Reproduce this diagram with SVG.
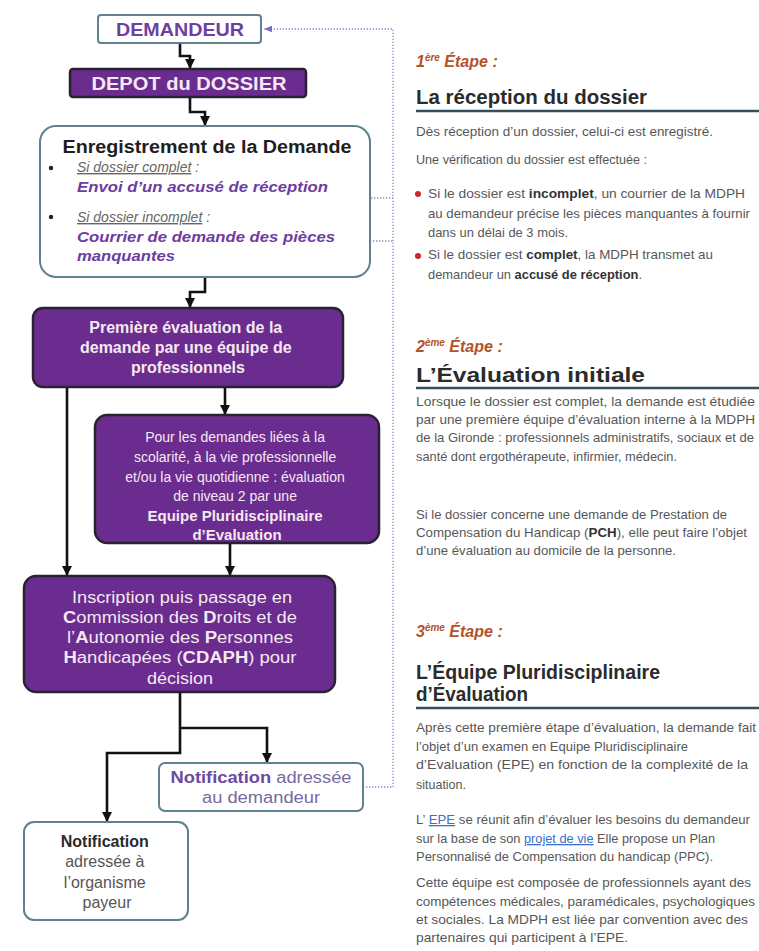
<svg xmlns="http://www.w3.org/2000/svg" width="759" height="951" viewBox="0 0 759 951">
<defs>
<marker id="ah" markerUnits="userSpaceOnUse" markerWidth="10" markerHeight="10" viewBox="0 0 10 10" refX="10" refY="5" orient="auto">
<path d="M0,0 L10,5 L0,10 z" fill="#111"/>
</marker>
<marker id="ahd" markerUnits="userSpaceOnUse" markerWidth="8" markerHeight="8" viewBox="0 0 10 10" refX="10" refY="5" orient="auto">
<path d="M0,1 L10,5 L0,9 z" fill="#7a6cc0"/>
</marker>
<style>
.pbox{fill:#6a2c8e;stroke:#2a2233;stroke-width:2.5}
.obox{fill:#fff;stroke:#5f8190;stroke-width:2}
.ptxt{font-family:"Liberation Sans",Arial,sans-serif;fill:#f6e8f2;text-anchor:middle}
.otxt{font-family:"Liberation Sans",Arial,sans-serif;text-anchor:middle}
.conn{fill:none;stroke:#111;stroke-width:2.6}
.dot{fill:none;stroke:#7f8fc8;stroke-width:1.3;stroke-dasharray:1.3 1.7}
.body{font-family:"Liberation Sans",Arial,sans-serif;font-size:13px;fill:#575757}
.step{font-family:"Liberation Sans",Arial,sans-serif;font-size:16px;font-weight:bold;font-style:italic;fill:#b4532a}
.title{font-family:"Liberation Sans",Arial,sans-serif;font-size:20px;font-weight:bold;fill:#2b2b2b}
.rule{stroke:#34505e;stroke-width:2.5}
.b{font-weight:bold;fill:#333}
.lnk{fill:#3a6fcc;text-decoration:underline}
</style>
</defs>
<rect width="759" height="951" fill="#fff"/>

<g id="connectors">
<path class="conn" d="M180,43 V56 H190 V69" marker-end="url(#ah)"/>
<path class="conn" d="M190,97 V112 H205 V126" marker-end="url(#ah)"/>
<path class="conn" d="M205,277 V292 H190 V308" marker-end="url(#ah)"/>
<path class="conn" d="M67,387 V576" marker-end="url(#ah)"/>
<path class="conn" d="M225,387 V415" marker-end="url(#ah)"/>
<path class="conn" d="M230,543 V576" marker-end="url(#ah)"/>
<path class="conn" d="M180,692 V753 H107 V822" marker-end="url(#ah)"/>
<path class="conn" d="M180,728 H267 V763" marker-end="url(#ah)"/>
<path class="dot" d="M363,787 H393 V29 H264" marker-end="url(#ahd)"/>
<path class="dot" d="M335,198 H393"/>
<path class="dot" d="M337,241 H393"/>
</g>

<g id="demandeur">
<rect class="obox" x="98" y="15" width="163" height="28" rx="3"/>
<text class="otxt" x="180" y="36" font-size="18" font-weight="bold" fill="#6f3f9f" textLength="128" lengthAdjust="spacingAndGlyphs">DEMANDEUR</text>
</g>

<g id="depot">
<rect class="pbox" x="70" y="69" width="236" height="28" rx="3"/>
<text class="ptxt" x="189" y="90" font-size="18" font-weight="bold" textLength="195" lengthAdjust="spacingAndGlyphs">DEPOT du DOSSIER</text>
</g>

<g id="enregistrement">
<rect class="obox" x="40" y="126" width="330" height="151" rx="16"/>
<text class="otxt" x="207" y="153" font-size="18" font-weight="bold" fill="#1e1e1e" textLength="289" lengthAdjust="spacingAndGlyphs">Enregistrement de la Demande</text>
<circle cx="51" cy="168" r="2.2" fill="#222"/>
<text x="77" y="172" font-family="'Liberation Sans',Arial,sans-serif" font-size="14" font-style="italic" fill="#666"><tspan text-decoration="underline">Si dossier complet</tspan> :</text>
<text x="77" y="192" font-family="'Liberation Sans',Arial,sans-serif" font-size="15" font-style="italic" font-weight="bold" fill="#6c3d9e" textLength="251" lengthAdjust="spacingAndGlyphs">Envoi d’un accusé de réception</text>
<circle cx="51" cy="217" r="2.2" fill="#222"/>
<text x="77" y="222" font-family="'Liberation Sans',Arial,sans-serif" font-size="14" font-style="italic" fill="#666"><tspan text-decoration="underline">Si dossier incomplet</tspan> :</text>
<text x="77" y="242" font-family="'Liberation Sans',Arial,sans-serif" font-size="15" font-style="italic" font-weight="bold" fill="#6c3d9e" textLength="258" lengthAdjust="spacingAndGlyphs">Courrier de demande des pièces</text>
<text x="77" y="261" font-family="'Liberation Sans',Arial,sans-serif" font-size="15" font-style="italic" font-weight="bold" fill="#6c3d9e" textLength="98" lengthAdjust="spacingAndGlyphs">manquantes</text>
</g>

<g id="premiere">
<rect class="pbox" x="33" y="308" width="310" height="79" rx="10"/>
<text class="ptxt" font-size="16" font-weight="bold">
<tspan x="188" y="333">Première évaluation de la</tspan>
<tspan x="188" y="353">demande par une équipe de</tspan>
<tspan x="188" y="373">professionnels</tspan>
</text>
</g>

<g id="epe">
<rect class="pbox" x="95" y="415" width="284" height="128" rx="12"/>
<text class="ptxt" font-size="14">
<tspan x="237" y="442">Pour les demandes liées à la</tspan>
<tspan x="237" y="462">scolarité, à la vie professionnelle</tspan>
<tspan x="237" y="482">et/ou la vie quotidienne : évaluation</tspan>
<tspan x="237" y="501">de niveau 2 par une</tspan>
<tspan x="237" y="521" font-size="15" font-weight="bold">Equipe Pluridisciplinaire</tspan>
<tspan x="237" y="540" font-size="15" font-weight="bold">d’Evaluation</tspan>
</text>
</g>

<g id="cdaph">
<rect class="pbox" x="24" y="576" width="311" height="116" rx="12"/>
<text class="ptxt" x="182" y="603" font-size="16" textLength="220" lengthAdjust="spacingAndGlyphs">Inscription puis passage en</text>
<text class="ptxt" x="180" y="623" font-size="16" textLength="234" lengthAdjust="spacingAndGlyphs"><tspan font-weight="bold">C</tspan>ommission des <tspan font-weight="bold">D</tspan>roits et de</text>
<text class="ptxt" x="180" y="643" font-size="16" textLength="226" lengthAdjust="spacingAndGlyphs">l’<tspan font-weight="bold">A</tspan>utonomie des <tspan font-weight="bold">P</tspan>ersonnes</text>
<text class="ptxt" x="180" y="663" font-size="16" textLength="233" lengthAdjust="spacingAndGlyphs"><tspan font-weight="bold">H</tspan>andicapées (<tspan font-weight="bold">CDAPH</tspan>) pour</text>
<text class="ptxt" x="180" y="684" font-size="16" textLength="66" lengthAdjust="spacingAndGlyphs">décision</text>
</g>

<g id="notif-demandeur">
<rect class="obox" x="159" y="763" width="204" height="48" rx="6"/>
<text class="otxt" x="261" y="783" font-size="16" fill="#7a6a9e" textLength="181" lengthAdjust="spacingAndGlyphs"><tspan font-weight="bold" fill="#6b4aa0">Notification</tspan> adressée</text>
<text class="otxt" x="261" y="803" font-size="16" fill="#7a6a9e" textLength="118" lengthAdjust="spacingAndGlyphs">au demandeur</text>
</g>

<g id="notif-payeur">
<rect class="obox" x="24" y="822" width="164" height="98" rx="10"/>
<text class="otxt" font-size="16" fill="#555">
<tspan x="107" y="847" font-weight="bold" fill="#2a2a2a">Notification</tspan>
<tspan x="107" y="867">adressée à</tspan>
<tspan x="107" y="888">l’organisme</tspan>
<tspan x="107" y="908">payeur</tspan>
</text>
</g>

<g id="etape1">
<text class="step" x="416" y="67">1<tspan font-size="10" dy="-6">ère</tspan><tspan dy="6"> Étape :</tspan></text>
<text class="title" x="416" y="104" textLength="231" lengthAdjust="spacingAndGlyphs">La réception du dossier</text>
<line class="rule" x1="416" y1="111" x2="759" y2="111"/>
<text class="body" x="416" y="136" textLength="297" lengthAdjust="spacingAndGlyphs">Dès réception d’un dossier, celui-ci est enregistré.</text>
<text class="body" x="416" y="164" textLength="231" lengthAdjust="spacingAndGlyphs">Une vérification du dossier est effectuée :</text>
<circle cx="418" cy="194" r="3" fill="#c8282d"/>
<text class="body" x="428" y="198" textLength="317" lengthAdjust="spacingAndGlyphs">Si le dossier est <tspan class="b">incomplet</tspan>,  un courrier de la MDPH</text>
<text class="body" x="428" y="218" textLength="322" lengthAdjust="spacingAndGlyphs">au demandeur précise les pièces manquantes à fournir</text>
<text class="body" x="428" y="237" textLength="140" lengthAdjust="spacingAndGlyphs">dans un délai de 3 mois.</text>
<circle cx="418" cy="256" r="3" fill="#c8282d"/>
<text class="body" x="428" y="259" textLength="285" lengthAdjust="spacingAndGlyphs">Si le dossier est <tspan class="b">complet</tspan>, la MDPH transmet au</text>
<text class="body" x="428" y="279" textLength="214" lengthAdjust="spacingAndGlyphs">demandeur un <tspan class="b">accusé de réception</tspan>.</text>
</g>

<g id="etape2">
<text class="step" x="416" y="352">2<tspan font-size="10" dy="-6">ème</tspan><tspan dy="6"> Étape :</tspan></text>
<text class="title" x="416" y="382" font-size="21" textLength="229" lengthAdjust="spacingAndGlyphs">L’Évaluation initiale</text>
<line class="rule" x1="416" y1="388" x2="759" y2="388"/>
<text class="body" x="416" y="406" textLength="339" lengthAdjust="spacingAndGlyphs">Lorsque le dossier est complet, la demande est étudiée</text>
<text class="body" x="416" y="424" textLength="339" lengthAdjust="spacingAndGlyphs">par une première équipe d’évaluation interne à la MDPH</text>
<text class="body" x="416" y="442" textLength="338" lengthAdjust="spacingAndGlyphs">de la Gironde : professionnels administratifs, sociaux et de</text>
<text class="body" x="416" y="461" textLength="261" lengthAdjust="spacingAndGlyphs">santé dont ergothérapeute, infirmier, médecin.</text>
<text class="body" x="416" y="519" textLength="311" lengthAdjust="spacingAndGlyphs">Si le dossier concerne une demande de Prestation de</text>
<text class="body" x="416" y="537" textLength="331" lengthAdjust="spacingAndGlyphs">Compensation du Handicap (<tspan class="b">PCH</tspan>), elle peut faire l’objet</text>
<text class="body" x="416" y="555" textLength="260" lengthAdjust="spacingAndGlyphs">d’une évaluation au domicile de la personne.</text>
</g>

<g id="etape3">
<text class="step" x="416" y="637">3<tspan font-size="10" dy="-6">ème</tspan><tspan dy="6"> Étape :</tspan></text>
<text class="title" x="416" y="679" textLength="244" lengthAdjust="spacingAndGlyphs">L’Équipe Pluridisciplinaire</text>
<text class="title" x="416" y="701" textLength="112" lengthAdjust="spacingAndGlyphs">d’Évaluation</text>
<line class="rule" x1="416" y1="708" x2="759" y2="708"/>
<text class="body" x="416" y="732" textLength="340" lengthAdjust="spacingAndGlyphs">Après cette première étape d’évaluation, la demande fait</text>
<text class="body" x="416" y="751" textLength="272" lengthAdjust="spacingAndGlyphs">l’objet d’un examen en Equipe Pluridisciplinaire</text>
<text class="body" x="416" y="769" textLength="332" lengthAdjust="spacingAndGlyphs">d’Evaluation (EPE) en fonction de la complexité de la</text>
<text class="body" x="416" y="789" textLength="50" lengthAdjust="spacingAndGlyphs">situation.</text>
<text class="body" x="416" y="824" textLength="334" lengthAdjust="spacingAndGlyphs">L’ <tspan class="lnk">EPE</tspan> se réunit afin d’évaluer les besoins du demandeur</text>
<text class="body" x="416" y="843" textLength="299" lengthAdjust="spacingAndGlyphs">sur la base de son <tspan class="lnk">projet de vie</tspan>  Elle propose un Plan</text>
<text class="body" x="416" y="861" textLength="297" lengthAdjust="spacingAndGlyphs">Personnalisé de Compensation du handicap (PPC).</text>
<text class="body" x="416" y="887" textLength="335" lengthAdjust="spacingAndGlyphs">Cette équipe est composée de professionnels ayant des</text>
<text class="body" x="416" y="906" textLength="339" lengthAdjust="spacingAndGlyphs">compétences médicales, paramédicales, psychologiques</text>
<text class="body" x="416" y="924" textLength="332" lengthAdjust="spacingAndGlyphs">et sociales. La MDPH est liée par convention avec des</text>
<text class="body" x="416" y="942" textLength="212" lengthAdjust="spacingAndGlyphs">partenaires qui participent à l’EPE.</text>
</g>
</svg>
